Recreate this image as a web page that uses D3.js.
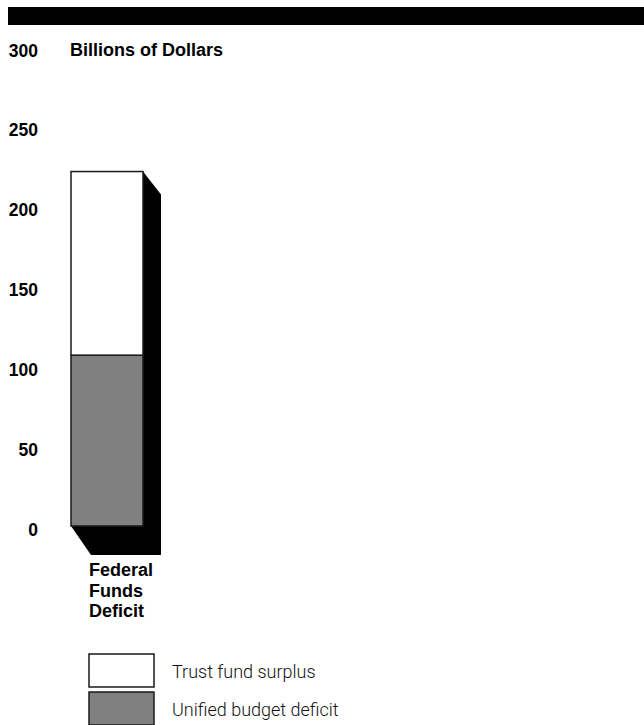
<!DOCTYPE html>
<html><head><meta charset="utf-8">
<script src="https://cdn.jsdelivr.net/npm/d3@7"></script>
<style>body{margin:0;background:#fff;}svg{display:block;}</style>
</head><body>
<script>
const categories = ["Federal Funds Deficit"];
const seriesNames = ["Unified budget deficit", "Trust fund surplus"];
const unifiedDeficit = [107];
const trustSurplus = [115];
const yTicks = [0, 50, 100, 150, 200, 250, 300];
const legendItems = ["Trust fund surplus", "Unified budget deficit"];

const W = 644, H = 725;
const svg = d3.select("body").append("svg").attr("width", W).attr("height", H);

// top black banner
svg.append("rect").attr("x", 8).attr("y", 7).attr("width", W - 8).attr("height", 18).attr("fill", "#000");

const y = d3.scaleLinear().domain([0, 300]).range([526, 47]);
const x = d3.scaleBand().domain(categories).range([71, 143]).padding(0);
const color = d3.scaleOrdinal().domain(seriesNames).range(["#808080", "#ffffff"]);

// axis labels
const axis = d3.axisLeft(y).tickValues(yTicks).tickSize(0).tickPadding(0);
const ag = svg.append("g").attr("transform", "translate(38,0)").call(axis);
ag.select(".domain").remove();
ag.selectAll("text").attr("font-family", "Liberation Sans, Arial, sans-serif")
  .attr("font-weight", "bold").attr("font-size", 17.5).attr("fill", "#000")
  .attr("dy", null).attr("y", 9).attr("text-anchor", "end");

svg.append("text").attr("x", 70).attr("y", 56).text("Billions of Dollars")
  .attr("font-family", "Liberation Sans, Arial, sans-serif").attr("font-weight", "bold")
  .attr("font-size", 18).attr("fill", "#000");

// stacked data
const rows = categories.map((c, i) => ({cat: c, "Unified budget deficit": unifiedDeficit[i], "Trust fund surplus": trustSurplus[i]}));
const stack = d3.stack().keys(seriesNames)(rows);

// 3D shadow
rows.forEach((r, i) => {
  const x0 = x(r.cat), x1 = x0 + x.bandwidth();
  const top = y(unifiedDeficit[i] + trustSurplus[i]), bot = y(0);
  const pts = [[x1, top], [x1 + 18, top + 23], [x1 + 18, bot + 29], [x0 + 20, bot + 29], [x0, bot]];
  svg.append("polygon").attr("points", pts.map(p => p.join(",")).join(" ")).attr("fill", "#000");
});

// bars
svg.append("g").selectAll("g").data(stack).join("g")
  .attr("fill", d => color(d.key))
  .selectAll("rect").data(d => d).join("rect")
  .attr("x", d => x(d.data.cat)).attr("width", x.bandwidth())
  .attr("y", d => y(d[1])).attr("height", d => y(d[0]) - y(d[1]))
  .attr("stroke", "#1a1a1a").attr("stroke-width", 1.5);

// category label
const cl = svg.append("text").attr("font-family", "Liberation Sans, Arial, sans-serif")
  .attr("font-weight", "bold").attr("font-size", 18).attr("fill", "#000");
categories[0].split(" ").forEach((w, i) => {
  cl.append("tspan").attr("x", 89).attr("y", 576 + i * 20.5).text(w);
});

// legend
const lg = svg.append("g");
legendItems.forEach((name, i) => {
  const yy = 654 + i * 38;
  lg.append("rect").attr("x", 89).attr("y", yy).attr("width", 65).attr("height", 33)
    .attr("fill", color(name)).attr("stroke", "#1a1a1a").attr("stroke-width", 1.5);
  lg.append("text").attr("x", 172).attr("y", yy + 24).text(name)
    .attr("font-family", "Roboto, Liberation Sans, sans-serif").attr("font-weight", 300)
    .attr("font-size", 18).attr("fill", "#111");
});
</script>
</body></html>
